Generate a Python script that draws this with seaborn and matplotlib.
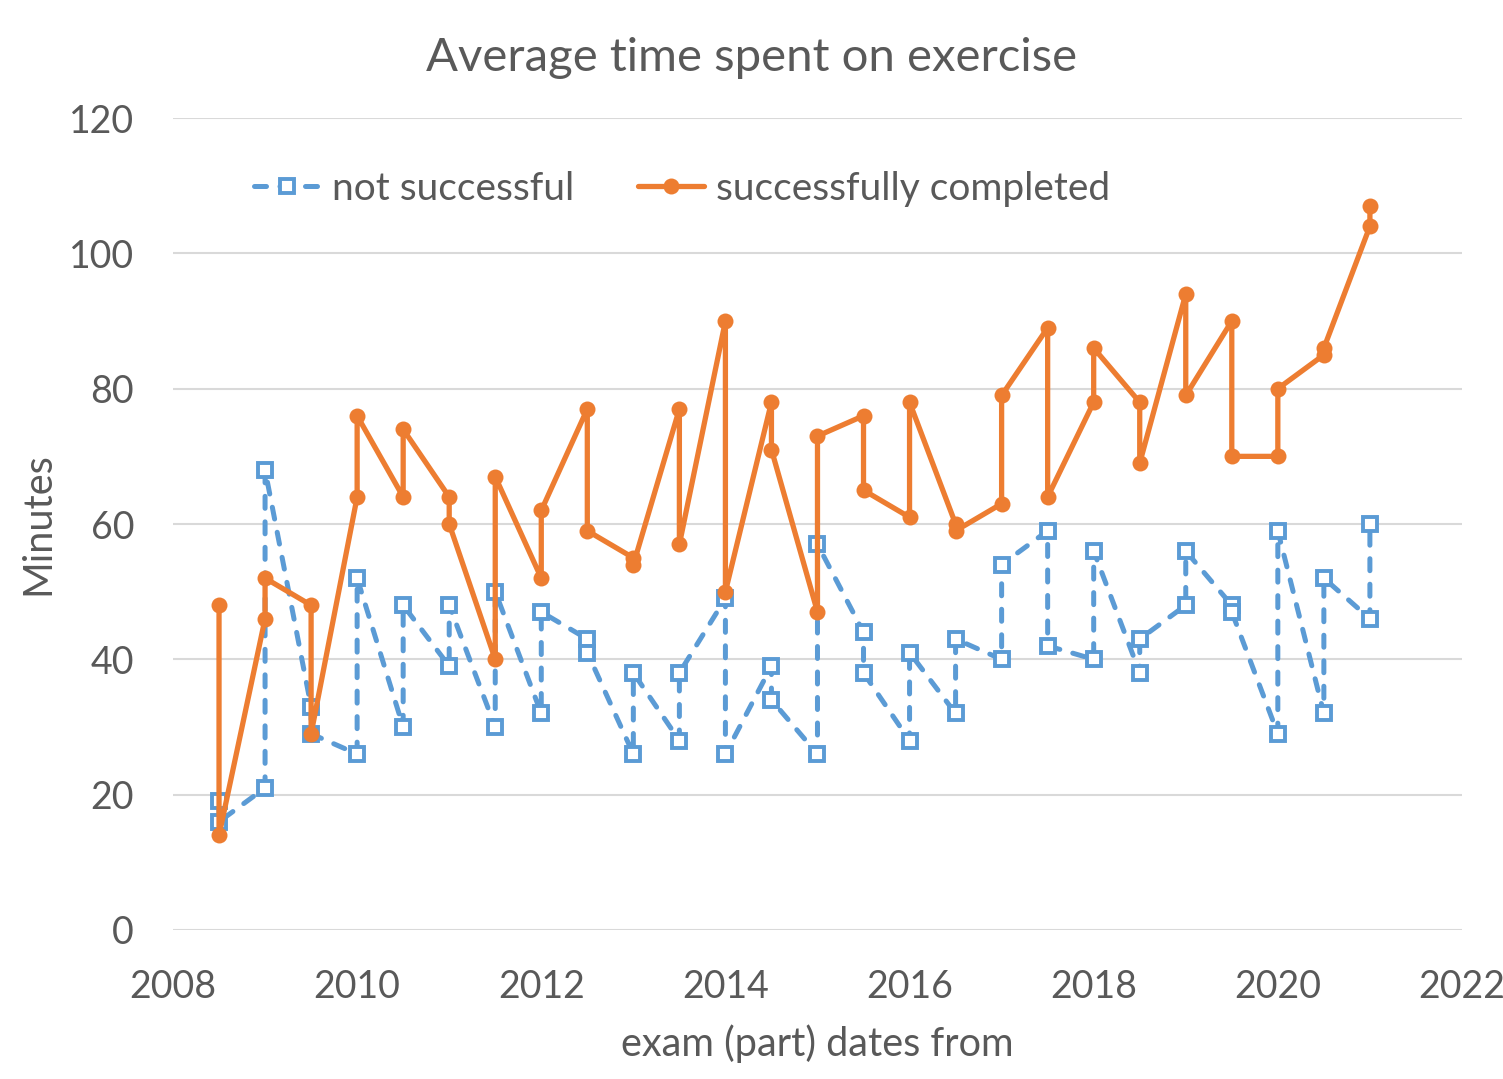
import pandas as pd
import numpy as np
import seaborn as sns
import matplotlib.pyplot as plt

# exam (part) dates, every date appears twice (two exam parts)
dates = [2008.5, 2008.5, 2009, 2009, 2009.5, 2009.5, 2010, 2010, 2010.5, 2010.5,
         2011, 2011, 2011.5, 2011.5, 2012, 2012, 2012.5, 2012.5, 2013, 2013,
         2013.5, 2013.5, 2014, 2014, 2014.5, 2014.5, 2015, 2015, 2015.5, 2015.5,
         2016, 2016, 2016.5, 2016.5, 2017, 2017, 2017.5, 2017.5, 2018, 2018,
         2018.5, 2018.5, 2019, 2019, 2019.5, 2019.5, 2020, 2020, 2020.5, 2020.5,
         2021, 2021]

not_successful = [19, 16, 21, 68, 33, 29, 26, 52, 30, 48,
                  39, 48, 30, 50, 32, 47, 43, 41, 26, 38,
                  28, 38, 49, 26, 39, 34, 26, 57, 44, 38,
                  28, 41, 32, 43, 40, 54, 59, 42, 40, 56,
                  38, 43, 48, 56, 48, 47, 29, 59, 32, 52,
                  46, 60]

successful = [48, 14, 46, 52, 48, 29, 64, 76, 64, 74,
              64, 60, 40, 67, 52, 62, 77, 59, 55, 54,
              77, 57, 90, 50, 78, 71, 47, 73, 76, 65,
              61, 78, 60, 59, 63, 79, 89, 64, 78, 86,
              78, 69, 94, 79, 90, 70, 70, 80, 85, 86,
              104, 107]

df = pd.DataFrame({"date": dates,
                   "not successful": not_successful,
                   "successfully completed": successful})

sns.set_style("white")
plt.rcParams["font.family"] = ["Lato", "DejaVu Sans"]
grey = "#595959"
blue = "#5B9BD5"
orange = "#ED7D31"

fig = plt.figure(figsize=(15.03, 10.79), dpi=100)
ax = fig.add_axes([0.1151, 0.1381, 0.8576, 0.7525])

# raw points in recorded order, no aggregation
sns.lineplot(data=df, x="date", y="not successful", sort=False, ax=ax,
             estimator=None, errorbar=None,
             color=blue, linewidth=3.6, linestyle=(0, (2.4, 2.7)),
             dash_capstyle="round",
             marker="s", markersize=10, markerfacecolor="white",
             markeredgecolor=blue, markeredgewidth=2.8,
             label="not successful")
sns.lineplot(data=df, x="date", y="successfully completed", sort=False, ax=ax,
             estimator=None, errorbar=None,
             color=orange, linewidth=3.8, marker="o", markersize=11.5,
             markeredgewidth=0, label="successfully completed")

ax.set_xlim(2008, 2022)
ax.set_ylim(0, 120)
ax.set_xticks(np.arange(2008, 2023, 2))
ax.set_yticks(np.arange(0, 121, 20))
ax.yaxis.grid(True, color="#d9d9d9", linewidth=1.5)
ax.xaxis.grid(False)
for s in ax.spines.values():
    s.set_visible(False)
ax.tick_params(axis="both", length=0, labelsize=27, labelcolor=grey)
ax.tick_params(axis="x", pad=28)
ax.tick_params(axis="y", pad=28)

ax.set_xlabel("exam (part) dates from", fontsize=28.5, color=grey, labelpad=14)
ax.set_ylabel("Minutes", fontsize=28.5, color=grey, labelpad=9)
fig.suptitle("Average time spent on exercise", fontsize=34, color=grey, y=0.966)

leg = ax.legend(loc="upper center", bbox_to_anchor=(0.395, 0.978), ncol=2,
                frameon=False, fontsize=28, handlelength=1.7,
                columnspacing=1.65, handletextpad=0.3)
for t in leg.get_texts():
    t.set_color(grey)

fig.savefig("out.png", dpi=100)
